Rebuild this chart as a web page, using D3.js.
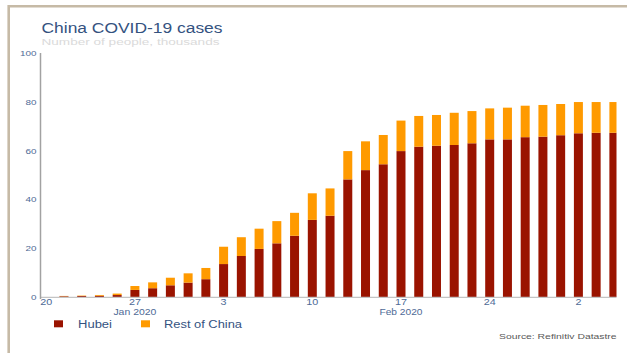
<!DOCTYPE html>
<html>
<head>
<meta charset="utf-8">
<script src="https://cdn.jsdelivr.net/npm/d3@7"></script>
<style>
  html, body { margin: 0; padding: 0; background: #fff; }
  svg { display: block; font-family: "Liberation Sans", Arial, sans-serif; }
</style>
</head>
<body>
<svg id="chart" width="627" height="353"></svg>
<script>
// Business days reported (thousands of people)
const dates = [
  "2020-01-20","2020-01-21","2020-01-22","2020-01-23","2020-01-24",
  "2020-01-27","2020-01-28","2020-01-29","2020-01-30","2020-01-31",
  "2020-02-03","2020-02-04","2020-02-05","2020-02-06","2020-02-07",
  "2020-02-10","2020-02-11","2020-02-12","2020-02-13","2020-02-14",
  "2020-02-17","2020-02-18","2020-02-19","2020-02-20","2020-02-21",
  "2020-02-24","2020-02-25","2020-02-26","2020-02-27","2020-02-28",
  "2020-03-02","2020-03-03","2020-03-04"
];
const hubei = [
  0, 0.3, 0.4, 0.5, 0.8,
  2.9, 3.6, 4.8, 5.9, 7.3,
  13.5, 16.8, 19.7, 22.0, 25.1,
  31.6, 33.3, 48.2, 52.0, 54.4,
  59.8, 61.6, 62.0, 62.3, 63.0,
  64.6, 64.6, 65.5, 65.7, 66.3,
  67.1, 67.3, 67.3
];
const restOfChina = [
  0, 0.14, 0.17, 0.33, 0.6,
  1.6, 2.4, 3.1, 3.8, 4.6,
  7.1, 7.7, 8.3, 9.1, 9.4,
  10.9, 11.2, 11.6, 11.8, 12.0,
  12.5, 12.6, 12.6, 13.2, 13.2,
  12.7, 13.0, 12.9, 13.0, 12.8,
  12.8, 12.6, 12.6
];
const seriesNames = ["Hubei", "Rest of China"];
const seriesColors = ["#9a1300", "#ff9a00"];
const yTicks = [0, 20, 40, 60, 80, 100];
const xTickDates = ["2020-01-20","2020-01-27","2020-02-03","2020-02-10","2020-02-17","2020-02-24","2020-03-02"];
const monthLabels = [
  { at: "2020-01-27", text: "Jan 2020" },
  { at: "2020-02-17", text: "Feb 2020" }
];

const svg = d3.select("#chart");
const plotLeft = 40.5, plotRight = 616.5, plotTop = 53, plotBottom = 297;
const step = 17.74;

// Stretch text horizontally to a target width
function fit(sel, width) {
  sel.attr("textLength", width).attr("lengthAdjust", "spacingAndGlyphs");
}

// Outer frame
svg.append("line").attr("x1", 8).attr("x2", 627).attr("y1", 6.2).attr("y2", 6.2)
  .attr("stroke", "#c6baa6").attr("stroke-width", 2.6);
svg.append("line").attr("x1", 8.7).attr("x2", 8.7).attr("y1", 5).attr("y2", 353)
  .attr("stroke", "#c6baa6").attr("stroke-width", 2.6);

// Title block
svg.append("text").attr("x", 41.5).attr("y", 32.7)
  .attr("font-size", 14).attr("fill", "#34527f")
  .text("China COVID-19 cases").call(fit, 181);
svg.append("text").attr("x", 41.5).attr("y", 45.3)
  .attr("font-size", 9.2).attr("fill", "#dadada")
  .text("Number of people, thousands").call(fit, 178);

// Scales
const x = d3.scaleBand()
  .domain(dates)
  .range([46.2 - step / 2, 46.2 - step / 2 + step * dates.length])
  .paddingInner(0.493)
  .paddingOuter(0.2465);
const y = d3.scaleLinear().domain([0, 100]).range([plotBottom, plotTop]);

const defs = svg.append("defs");
defs.append("clipPath").attr("id", "plotClip")
  .append("rect").attr("x", plotLeft).attr("y", 0)
  .attr("width", plotRight - plotLeft).attr("height", 353);

// Stacked bars
const rows = dates.map((d, i) => ({ date: d, "Hubei": hubei[i], "Rest of China": restOfChina[i] }));
const stacked = d3.stack().keys(seriesNames)(rows);

svg.append("g").attr("clip-path", "url(#plotClip)")
  .selectAll("g")
  .data(stacked)
  .join("g")
  .attr("fill", (d, i) => seriesColors[i])
  .selectAll("rect")
  .data(d => d)
  .join("rect")
  .attr("x", d => x(d.data.date))
  .attr("width", x.bandwidth())
  .attr("y", d => y(d[1]))
  .attr("height", d => Math.max(0, y(d[0]) - y(d[1])));

// X baseline
svg.append("line").attr("x1", plotLeft).attr("x2", plotRight)
  .attr("y1", plotBottom + 0.3).attr("y2", plotBottom + 0.3)
  .attr("stroke", "#c4c4c4").attr("stroke-width", 1.3);

// Y axis
const yAxis = svg.append("g")
  .attr("transform", `translate(${plotLeft},0)`)
  .call(d3.axisLeft(y).tickValues(yTicks).tickSize(0).tickPadding(4));
yAxis.select(".domain").remove();
yAxis.append("line").attr("x1", 0).attr("x2", 0).attr("y1", plotTop).attr("y2", plotBottom + 2)
  .attr("stroke", "#a2a2a2").attr("stroke-width", 1.5);
yAxis.selectAll(".tick text")
  .attr("font-size", 7.8).attr("fill", "#4e6a96").attr("font-family", null)
  .each(function () {
    const t = d3.select(this);
    fit(t, t.text().length * 5.5);
  });

// X axis: Monday day numbers
const xAxis = svg.append("g")
  .attr("transform", `translate(0,${plotBottom})`)
  .call(d3.axisBottom(x).tickValues(xTickDates).tickSize(0).tickPadding(2)
    .tickFormat(d => String(+d.slice(8))));
xAxis.select(".domain").remove();
xAxis.selectAll(".tick text")
  .attr("font-size", 8.2).attr("fill", "#4e6a96").attr("font-family", null)
  .attr("dy", "0.71em")
  .each(function () {
    const t = d3.select(this);
    fit(t, t.text().length * 6);
  });

// Month labels
svg.append("g").selectAll("text")
  .data(monthLabels)
  .join("text")
  .attr("x", d => x(d.at) + x.bandwidth() / 2)
  .attr("y", 315)
  .attr("text-anchor", "middle")
  .attr("font-size", 8.4).attr("fill", "#4e6a96")
  .text(d => d.text)
  .each(function () { fit(d3.select(this), 43); });

// Legend
const legendX = [54, 141];
const legendTextX = [78, 164];
const legendTextW = [34, 78];
const legend = svg.append("g");
seriesNames.forEach((name, i) => {
  legend.append("rect").attr("x", legendX[i]).attr("y", 320.3)
    .attr("width", 9).attr("height", 7).attr("fill", seriesColors[i]);
  legend.append("text").attr("x", legendTextX[i]).attr("y", 328.2)
    .attr("font-size", 10).attr("fill", "#34527f")
    .text(name).call(fit, legendTextW[i]);
});

// Source note, cut at the plot's right edge
defs.append("clipPath").attr("id", "srcClip")
  .append("rect").attr("x", 0).attr("y", 0).attr("width", plotRight).attr("height", 353);
svg.append("text").attr("x", 499).attr("y", 339)
  .attr("clip-path", "url(#srcClip)")
  .attr("font-size", 7.6).attr("fill", "#585858")
  .text("Source: Refinitiv Datastream").call(fit, 132);
</script>
</body>
</html>
